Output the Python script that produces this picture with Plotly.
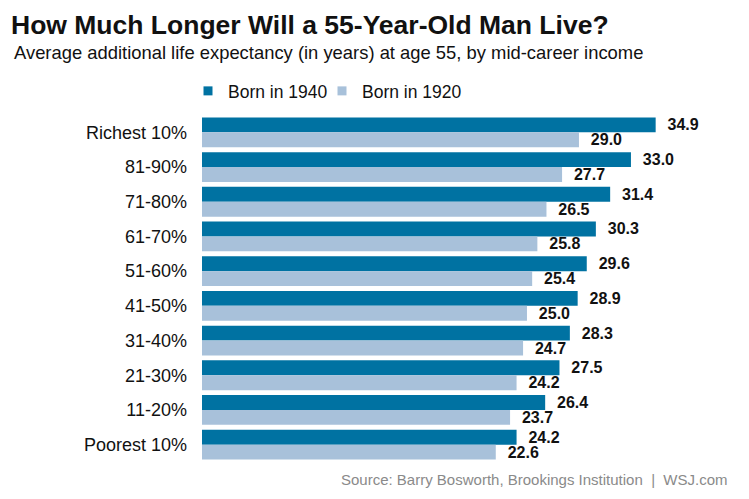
import plotly.graph_objects as go

categories = ["Richest 10%", "81-90%", "71-80%", "61-70%", "51-60%",
              "41-50%", "31-40%", "21-30%", "11-20%", "Poorest 10%"]
born_1940 = [34.9, 33.0, 31.4, 30.3, 29.6, 28.9, 28.3, 27.5, 26.4, 24.2]
born_1920 = [29.0, 27.7, 26.5, 25.8, 25.4, 25.0, 24.7, 24.2, 23.7, 22.6]
series_names = ["Born in 1940", "Born in 1920"]
colors = ["#0072a2", "#a8c1da"]

FONT = "Liberation Sans, Arial, sans-serif"
L, R, T, B = 202, 29, 115, 37
W, H = 749, 499
PW, PH = W - L - R, H - T - B
legend_ids = ["legend", "legend2"]
legend_x = [188, 322]

fig = go.Figure()
for name, vals, col, lid in zip(series_names, [born_1940, born_1920], colors, legend_ids):
    fig.add_trace(go.Bar(
        y=categories, x=vals, orientation="h", name=name,
        marker=dict(color=col, line=dict(width=0)),
        texttemplate="  <b>%{x:.1f}</b>", textposition="outside",
        constraintext="none",
        textfont=dict(family=FONT, size=16, color="#111111"),
        cliponaxis=False, showlegend=False, hoverinfo="skip",
    ))
    fig.add_trace(go.Scatter(
        x=[None], y=[None], mode="markers", name=name, legend=lid,
        marker=dict(symbol="square", size=9, color=col),
    ))

legend_style = dict(orientation="h", xref="container", yref="container",
                    y=1 - 91 / H, xanchor="left", yanchor="middle",
                    font=dict(family=FONT, size=17.5, color="#111111"),
                    itemwidth=30, bgcolor="rgba(0,0,0,0)")

fig.update_layout(
    width=W, height=H,
    margin=dict(l=L, r=R, t=T, b=B, autoexpand=False),
    paper_bgcolor="white", plot_bgcolor="white",
    barmode="group", bargap=0.14, bargroupgap=0,
    font=dict(family=FONT, color="#111111"),
    xaxis=dict(range=[0, 39.85], visible=False, showgrid=False, zeroline=False),
    yaxis=dict(range=[9.5, -0.5], categoryorder="array", categoryarray=categories,
               showgrid=False, zeroline=False, showline=False, ticks="",
               automargin=False, ticklabelstandoff=14,
               tickfont=dict(family=FONT, size=18, color="#111111")),
    legend=dict(x=legend_x[0] / W, **legend_style),
    legend2=dict(x=legend_x[1] / W, **legend_style),
)
fig.add_annotation(text="<b>How Much Longer Will a 55-Year-Old Man Live?</b>",
                   xref="paper", yref="paper", x=-(L - 9) / PW, y=1 + (T - 25) / PH,
                   xanchor="left", yanchor="middle", showarrow=False,
                   font=dict(family=FONT, size=26.5, color="#111111"))
fig.add_annotation(text="Average additional life expectancy (in years) at age 55, by mid-career income",
                   xref="paper", yref="paper", x=-(L - 12) / PW, y=1 + (T - 53) / PH,
                   xanchor="left", yanchor="middle", showarrow=False,
                   font=dict(family=FONT, size=18.4, color="#111111"))
fig.add_annotation(text="Source: Barry Bosworth, Brookings Institution  |  WSJ.com",
                   xref="paper", yref="paper", x=(730 - L) / PW, y=-(479 - (H - B)) / PH,
                   xanchor="right", yanchor="middle", showarrow=False,
                   font=dict(family=FONT, size=15, color="#8a8a8a"))

fig.write_html("out.html", config={"displayModeBar": False},
               post_script="document.body.style.margin='0';")
